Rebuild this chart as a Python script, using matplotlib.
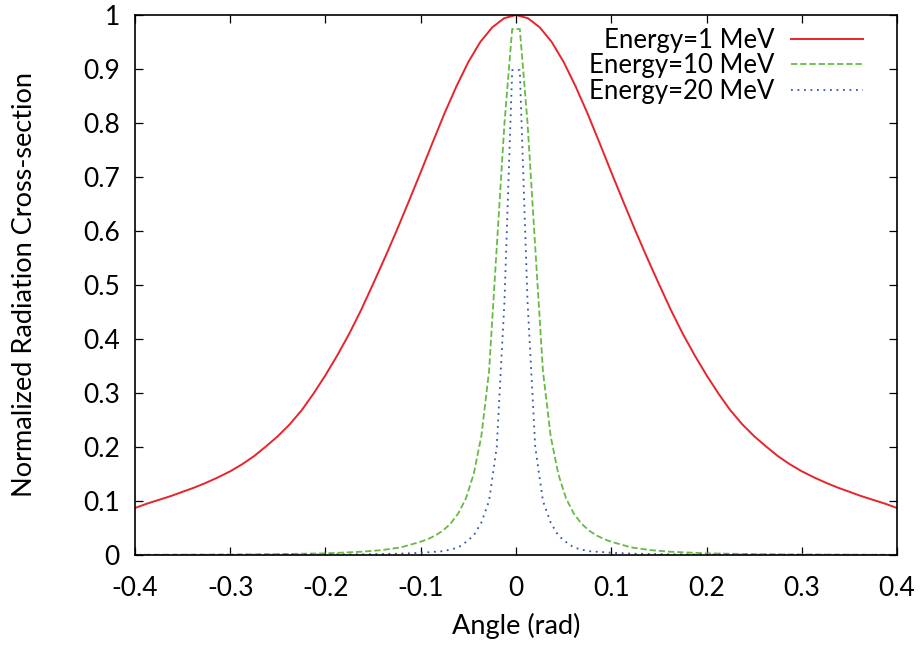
import matplotlib
matplotlib.use('Agg')
import matplotlib.pyplot as plt
from matplotlib.ticker import FuncFormatter, MultipleLocator

plt.rcParams['font.family'] = ['Lato', 'DejaVu Sans']
plt.rcParams['axes.unicode_minus'] = False

# Energy = 1 MeV for angles 0 .. 0.4 (curve is symmetric)
half_angle_1 = [0.0, 0.0125, 0.025, 0.0375, 0.05, 0.0625, 0.075, 0.0875, 0.1,
                0.1125, 0.125, 0.1375, 0.15, 0.1625, 0.175, 0.1875, 0.2, 0.2125,
                0.225, 0.2375, 0.25, 0.2625, 0.275, 0.2875, 0.3, 0.3125, 0.325,
                0.3375, 0.35, 0.3625, 0.375, 0.3875, 0.4]
half_sigma_1 = [1.000, 0.994, 0.977, 0.950, 0.913, 0.868, 0.818, 0.764, 0.709,
                0.655, 0.602, 0.551, 0.502, 0.454, 0.410, 0.370, 0.333, 0.299,
                0.268, 0.242, 0.220, 0.201, 0.183, 0.168, 0.155, 0.144, 0.134,
                0.125, 0.117, 0.109, 0.102, 0.095, 0.087]
angle_1 = [-a for a in half_angle_1[::-1]] + half_angle_1[1:]
sigma_1 = half_sigma_1[::-1] + half_sigma_1[1:]

# Energy = 10 MeV and 20 MeV share the same sample angles
angle_hi = [-0.4, -0.3, -0.25, -0.2, -0.162, -0.141, -0.121, -0.101, -0.0929, -0.0848,
            -0.0768, -0.0687, -0.0606, -0.0525, -0.0444, -0.0364, -0.0283, -0.0202,
            -0.0121, -0.0040, 0.0040, 0.0121, 0.0202, 0.0283, 0.0364, 0.0444, 0.0525,
            0.0606, 0.0687, 0.0768, 0.0848, 0.0929, 0.101, 0.121, 0.141, 0.162, 0.2,
            0.25, 0.3, 0.4]
sigma_10 = [0.0004, 0.0009, 0.0016, 0.003, 0.006, 0.009, 0.014, 0.024, 0.029, 0.036,
            0.045, 0.058, 0.077, 0.105, 0.150, 0.220, 0.340, 0.570,
            0.800, 0.974, 0.974, 0.800, 0.570, 0.340, 0.220, 0.150, 0.105,
            0.077, 0.058, 0.045, 0.036, 0.029, 0.024, 0.014, 0.009, 0.006, 0.003,
            0.0016, 0.0009, 0.0004]
sigma_20 = [0.0001, 0.0003, 0.0005, 0.0008, 0.0012, 0.0018, 0.0025, 0.004, 0.005, 0.006,
            0.007, 0.010, 0.014, 0.024, 0.036, 0.060, 0.100, 0.200,
            0.470, 0.898, 0.898, 0.470, 0.200, 0.100, 0.060, 0.036, 0.024,
            0.014, 0.010, 0.007, 0.006, 0.005, 0.004, 0.0025, 0.0018, 0.0012, 0.0008,
            0.0005, 0.0003, 0.0001]

fig = plt.figure(figsize=(9.22, 6.46), dpi=100)
ax = fig.add_axes([0.1464, 0.1409, 0.8265, 0.8359])

ax.plot(angle_1, sigma_1, color='#e8242a', lw=1.4, label='Energy=1 MeV')
ax.plot(angle_hi, sigma_10, color='#66bb44', lw=1.3, dashes=(3.5, 1.6),
        label='Energy=10 MeV')
ax.plot(angle_hi, sigma_20, color='#3355aa', lw=1.3, dashes=(1.0, 2.6),
        label='Energy=20 MeV')

ax.set_xlim(-0.4, 0.4)
ax.set_ylim(0, 1)
ax.xaxis.set_major_locator(MultipleLocator(0.1))
ax.yaxis.set_major_locator(MultipleLocator(0.1))
fmt = FuncFormatter(lambda v, p: f"{round(v, 2):g}" if abs(v) > 1e-9 else "0")
ax.xaxis.set_major_formatter(fmt)
ax.yaxis.set_major_formatter(fmt)
ax.tick_params(direction='in', length=6, width=0.9, top=True, right=True,
               labelsize=19)
ax.tick_params(axis='x', pad=15)
ax.tick_params(axis='y', pad=11)
for s in ax.spines.values():
    s.set_linewidth(1.2)

ax.set_xlabel('Angle (rad)', fontsize=19.5, labelpad=9)
ax.set_ylabel('Normalized Radiation Cross-section', fontsize=19.5, labelpad=33)

# gnuplot-style key: right-justified text with the sample line after it
ax.legend(loc='upper right', frameon=False, markerfirst=False, fontsize=18.5,
          handlelength=2.8, handletextpad=0.65, labelspacing=0.02,
          borderaxespad=0.1, bbox_to_anchor=(0.972, 1.0))

fig.savefig('out.png', dpi=100)
